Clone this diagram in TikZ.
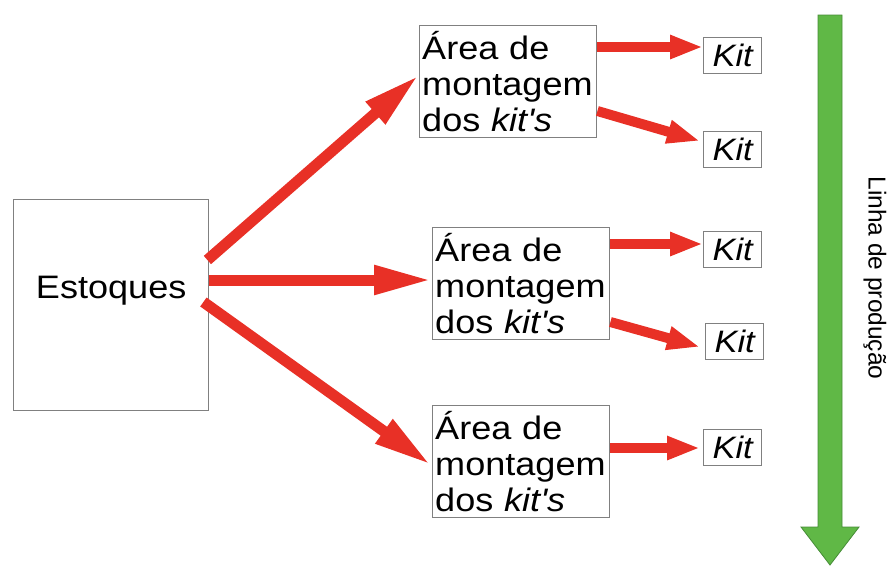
\documentclass[tikz,border=0pt]{standalone}
\usepackage{fontspec}
\setmainfont{Liberation Sans}
\newfontfamily\widefont[FakeStretch=1.11]{Liberation Sans}
\usetikzlibrary{arrows.meta,calc}
\definecolor{arrred}{RGB}{232,48,38}
\definecolor{boxgray}{RGB}{128,128,128}
\definecolor{prodgreen}{RGB}{96,184,70}
\definecolor{prodgreendark}{RGB}{70,140,55}
\begin{document}
\begin{tikzpicture}[x=1pt,y=-1pt,
  stockbox/.style={draw=boxgray,line width=1.4pt,inner sep=0pt,minimum width=195pt,
    text height=98.7pt,text depth=112.3pt,font=\widefont\fontsize{32.5}{36}\selectfont},
  areabox/.style={draw=boxgray,line width=1.4pt,anchor=north west,minimum width=177pt,
    minimum height=112pt,inner xsep=2.5pt,inner ysep=0pt,text width=172pt,align=left,
    font=\widefont\fontsize{32.5}{36}\selectfont},
  kitbox/.style={draw=boxgray,line width=1.4pt,anchor=north west,minimum width=58pt,
    minimum height=36pt,inner sep=0pt,font=\widefont\fontsize{31}{34}\selectfont\itshape},
  bigarrow/.style={draw=arrred,line width=11pt,-{Triangle[length=58pt,width=27pt]}},
  smallarrow/.style={draw=arrred,line width=10pt,-{Triangle[length=33pt,width=22pt]}},
  prodlabel/.style={rotate=-90,font=\fontsize{24.5}{28}\selectfont,inner sep=0pt}
]
\useasboundingbox (0,0) rectangle (893,566);

\node[stockbox,anchor=north west] (est) at (13,199) {Estoques};

\node[areabox] (a1) at (419,25) {Área de\\montagem\\dos \textit{kit's}};
\node[areabox] (a2) at (432,227) {Área de\\montagem\\dos \textit{kit's}};
\node[areabox] (a3) at (432,405) {Área de\\montagem\\dos \textit{kit's}};

\node[kitbox] (k1) at (703,37) {Kit};
\node[kitbox] (k2) at (703,131) {Kit};
\node[kitbox] (k3) at (703,231) {Kit};
\node[kitbox] (k4) at (705,323) {Kit};
\node[kitbox] (k5) at (703,429) {Kit};

% main arrows
\draw[bigarrow] ($(est.north east)+(-2,61)$) -- ($(a1.north west)+(0,50)$);
\draw[bigarrow] ($(est.north east)+(0,81)$) -- ($(a2.north west)+(0,53)$);
\draw[bigarrow] ($(est.north east)+(-6,103)$) -- ($(a3.north west)+(-1,60)$);

% kit arrows
\draw[smallarrow] ($(a1.north east)+(0,22)$) -- ($(k1.north west)+(0,10)$);
\draw[smallarrow] ($(a1.north east)+(0,86)$) -- ($(k2.north west)+(-3,10)$);
\draw[smallarrow] ($(a2.north east)+(0,17)$) -- ($(k3.north west)+(0,13)$);
\draw[smallarrow] ($(a2.north east)+(0,95)$) -- ($(k4.north west)+(-5,24)$);
\draw[smallarrow] ($(a3.north east)+(0,43)$) -- ($(k5.north west)+(-3,19)$);

% production line arrow
\draw[fill=prodgreen,draw=prodgreendark,line width=0.8pt,line join=miter]
  (818,15) -- (842,15) -- (842,527) -- (859,527) -- (830,565) -- (801,527) -- (818,527) -- cycle;
\node[prodlabel] (lp) at (875,278) {Linha de produção};
\end{tikzpicture}
\end{document}
